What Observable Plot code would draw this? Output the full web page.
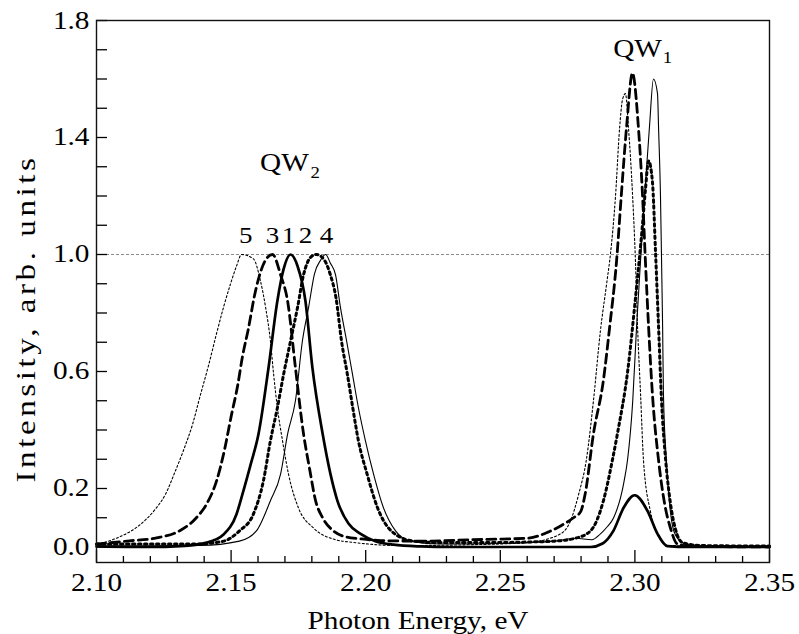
<!DOCTYPE html>
<html><head><meta charset="utf-8">
<script src="https://cdn.jsdelivr.net/npm/d3@7"></script>
<script src="https://cdn.jsdelivr.net/npm/@observablehq/plot@0.6"></script>
<style>
body{margin:0;background:#fff;}
#chart svg text{font-family:"Liberation Serif","Times New Roman",Times,serif !important;}
</style>
</head><body><div id="chart"></div>
<script>
// Spectrum 1: thick solid line [photon energy eV, intensity]
const curve1 = [[2.100,0.002],[2.120,0.0],[2.1312,0.003],[2.1409,0.015],[2.1472,0.043],[2.1520,0.112],[2.1542,0.18],[2.1572,0.28],[2.1602,0.387],[2.1639,0.613],[2.1672,0.842],[2.1695,0.95],[2.1721,1.0],[2.1747,0.96],[2.1776,0.842],[2.1802,0.613],[2.1840,0.387],[2.1869,0.25],[2.1895,0.158],[2.1936,0.08],[2.1981,0.045],[2.2036,0.02],[2.2103,0.008],[2.2204,0.002],[2.2315,0.0],[2.2835,0.0],[2.2880,0.012],[2.2920,0.055],[2.2958,0.134],[2.2999,0.177],[2.3047,0.123],[2.3084,0.045],[2.3121,0.003],[2.3200,0.0],[2.3500,0.0]];
// Spectrum 2: thick dotted line
const curve2 = [[2.100,0.01],[2.1371,0.01],[2.1472,0.02],[2.1531,0.055],[2.1583,0.113],[2.1620,0.226],[2.1646,0.363],[2.1672,0.476],[2.1695,0.59],[2.1721,0.705],[2.1747,0.82],[2.1769,0.93],[2.1795,0.99],[2.1817,1.0],[2.1847,0.98],[2.1869,0.93],[2.1890,0.85],[2.1910,0.705],[2.1932,0.59],[2.1952,0.476],[2.1973,0.363],[2.2005,0.25],[2.2044,0.134],[2.2095,0.055],[2.2178,0.02],[2.2278,0.015],[2.2450,0.015],[2.2600,0.017],[2.2700,0.02],[2.2779,0.03],[2.2835,0.055],[2.2883,0.158],[2.2917,0.3],[2.2935,0.387],[2.2973,0.6],[2.3002,0.85],[2.3028,1.1],[2.3039,1.22],[2.3051,1.32],[2.3065,1.25],[2.3077,1.0],[2.3088,0.75],[2.3099,0.5],[2.3114,0.3],[2.3132,0.15],[2.3151,0.06],[2.3177,0.015],[2.3244,0.005],[2.3500,0.003]];
// Spectrum 3: thick dashed line
const curve3 = [[2.100,0.01],[2.1123,0.021],[2.1223,0.031],[2.1308,0.055],[2.1371,0.1],[2.1409,0.147],[2.1446,0.226],[2.1475,0.33],[2.1501,0.45],[2.1524,0.55],[2.1542,0.65],[2.1565,0.75],[2.1587,0.86],[2.1613,0.95],[2.1635,0.99],[2.1654,1.0],[2.1684,0.93],[2.1710,0.84],[2.1739,0.613],[2.1769,0.387],[2.1791,0.27],[2.1814,0.158],[2.1840,0.1],[2.1880,0.055],[2.1925,0.035],[2.1981,0.028],[2.2055,0.022],[2.2204,0.02],[2.2400,0.025],[2.2601,0.03],[2.2675,0.05],[2.2724,0.072],[2.2772,0.1],[2.2798,0.12],[2.2815,0.18],[2.2846,0.387],[2.2883,0.57],[2.2906,0.75],[2.2932,0.979],[2.2950,1.209],[2.2969,1.435],[2.2991,1.62],[2.3013,1.435],[2.3028,1.209],[2.3039,0.979],[2.3051,0.75],[2.3065,0.524],[2.3088,0.295],[2.3110,0.15],[2.3132,0.065],[2.3158,0.01],[2.3207,0.003],[2.3500,0.0]];
// Spectrum 4: thin solid line
const curve4 = [[2.100,0.003],[2.1386,0.005],[2.1531,0.02],[2.1594,0.055],[2.1646,0.158],[2.1684,0.25],[2.1710,0.387],[2.1739,0.5],[2.1765,0.705],[2.1788,0.82],[2.1810,0.935],[2.1832,0.98],[2.1851,1.0],[2.1869,0.97],[2.1888,0.93],[2.1906,0.82],[2.1929,0.705],[2.1951,0.59],[2.1973,0.476],[2.1999,0.363],[2.2029,0.25],[2.2066,0.134],[2.2111,0.055],[2.2166,0.02],[2.2278,0.01],[2.2500,0.012],[2.2700,0.02],[2.2780,0.03],[2.2840,0.025],[2.2872,0.045],[2.2898,0.07],[2.2921,0.1],[2.2958,0.216],[2.2973,0.3],[2.2992,0.5],[2.3006,0.75],[2.3021,0.98],[2.3036,1.2],[2.3054,1.435],[2.3069,1.6],[2.3084,1.55],[2.3088,1.43],[2.3095,1.2],[2.3099,0.98],[2.3103,0.75],[2.3106,0.524],[2.3117,0.295],[2.3132,0.12],[2.3151,0.04],[2.3188,0.01],[2.3244,0.005],[2.3500,0.003]];
// Spectrum 5: thin dotted line
const curve5 = [[2.100,0.008],[2.1074,0.03],[2.1160,0.075],[2.1219,0.13],[2.1256,0.18],[2.1293,0.26],[2.1323,0.33],[2.1357,0.42],[2.1386,0.52],[2.1416,0.62],[2.1446,0.73],[2.1472,0.82],[2.1498,0.9],[2.1520,0.96],[2.1539,1.0],[2.1583,0.985],[2.1609,0.91],[2.1628,0.82],[2.1646,0.705],[2.1658,0.59],[2.1672,0.476],[2.1691,0.363],[2.1713,0.25],[2.1750,0.134],[2.1806,0.065],[2.1880,0.027],[2.1970,0.014],[2.2129,0.005],[2.2400,0.008],[2.2600,0.015],[2.2724,0.045],[2.2761,0.09],[2.2791,0.18],[2.2820,0.3],[2.2846,0.5],[2.2872,0.74],[2.2895,0.9],[2.2909,1.0],[2.2928,1.2],[2.2943,1.43],[2.2954,1.53],[2.2965,1.55],[2.2976,1.435],[2.2991,1.209],[2.3002,0.979],[2.3010,0.75],[2.3021,0.524],[2.3032,0.295],[2.3058,0.12],[2.3084,0.045],[2.3121,0.005],[2.3500,0.002]];

// Curve number labels above the QW2 peaks
const peakLabels = ["5", "3", "1", "2", "4"];
const peakLabelX = [2.1554, 2.1654, 2.1713, 2.1776, 2.1854];
const peakLabelY = [1.041, 1.041, 1.041, 1.041, 1.041];
// Quantum well labels
const qwLabels = ["QW", "QW"];
const qwX = [2.1698, 2.3010];
const qwY = [1.284, 1.675];
const qwSubs = ["2", "1"];
const qwSubX = [2.1795, 2.3103];
const qwSubY = [1.260, 1.654];

// Axes
const xTickLabels = [2.10, 2.15, 2.20, 2.25, 2.30, 2.35];
const xMinorTicks = [2.11,2.12,2.13,2.14,2.16,2.17,2.18,2.19,2.21,2.22,2.23,2.24,2.26,2.27,2.28,2.29,2.31,2.32,2.33,2.34];
const yTickLabels = [0.0, 0.2, 0.6, 1.0, 1.4, 1.8];
const yTicks = [0.0,0.1,0.2,0.3,0.4,0.5,0.6,0.7,0.8,0.9,1.0,1.1,1.2,1.3,1.4,1.5,1.6,1.7,1.8];
const refLevel = [1.0];
const xLabel = "Photon Energy, eV";
const yLabel = "Intensity, arb. units";

const W = 799, H = 634, mL = 96, mR = 30, mT = 20, mB = 72;
const innerH = H - mT - mB, innerW = W - mL - mR;
const font = "'Liberation Serif', 'Times New Roman', Times, serif";
const toPts = c => c.map(([x, y]) => ({x, y}));

const plot = Plot.plot({
  width: W, height: H,
  marginLeft: mL, marginRight: mR, marginTop: mT, marginBottom: mB,
  style: {fontFamily: font, fontSize: "25px", color: "#000", background: "#fff"},
  x: {domain: [2.10, 2.35]},
  y: {domain: [-0.053, 1.8]},
  marks: [
    Plot.ruleY(refLevel, {stroke: "#8a8a8a", strokeWidth: 1, strokeDasharray: "3,2"}),
    Plot.line(toPts(curve5), {x: "x", y: "y", stroke: "#000", strokeWidth: 1.1, strokeDasharray: "2,2.2", curve: "monotone-x"}),
    Plot.line(toPts(curve4), {x: "x", y: "y", stroke: "#000", strokeWidth: 1.1, curve: "monotone-x"}),
    Plot.line(toPts(curve2), {x: "x", y: "y", stroke: "#000", strokeWidth: 3, strokeDasharray: "2.5,3.5", curve: "monotone-x"}),
    Plot.line(toPts(curve3), {x: "x", y: "y", stroke: "#000", strokeWidth: 2.8, strokeDasharray: "9,5", curve: "monotone-x"}),
    Plot.line(toPts(curve1), {x: "x", y: "y", stroke: "#000", strokeWidth: 2.7, curve: "monotone-x"}),
    Plot.ruleX(xTickLabels, {stroke: "#000", strokeWidth: 1.3, insetTop: innerH - 12}),
    Plot.ruleX(xMinorTicks, {stroke: "#000", strokeWidth: 1.3, insetTop: innerH - 6}),
    Plot.ruleY(yTicks, {stroke: "#000", strokeWidth: 1.3, insetRight: innerW - 11}),
    Plot.axisX({ticks: xTickLabels, tickSize: 0, tickPadding: 11, tickFormat: d => d.toFixed(2), label: null, fontFamily: font}),
    Plot.axisY({ticks: yTickLabels, tickSize: 0, tickPadding: 7, tickFormat: d => d.toFixed(1), label: null, fontFamily: font}),
    Plot.frame({stroke: "#111", strokeWidth: 1.4}),
    Plot.text(peakLabels.map((t, i) => ({t, x: peakLabelX[i], y: peakLabelY[i]})), {x: "x", y: "y", text: "t", fontSize: 23, fontFamily: font, lineAnchor: "bottom", fill: "#000"}),
    Plot.text(qwLabels.map((t, i) => ({t, x: qwX[i], y: qwY[i]})), {x: "x", y: "y", text: "t", fontSize: 25, fontFamily: font, lineAnchor: "bottom", fill: "#000"}),
    Plot.text(qwSubs.map((t, i) => ({t, x: qwSubX[i], y: qwSubY[i]})), {x: "x", y: "y", text: "t", fontSize: 16, fontFamily: font, textAnchor: "start", lineAnchor: "bottom", fill: "#000"}),
    Plot.text([xLabel], {frameAnchor: "bottom", dx: -125.5, dy: 66, textAnchor: "start", lineAnchor: "bottom", fontSize: 26, fontFamily: font, fill: "#000"}),
    Plot.text([yLabel], {frameAnchor: "left", dx: -62, dy: 191, rotate: -90, textAnchor: "start", lineAnchor: "bottom", fontSize: 28, fontFamily: font, fill: "#000"})
  ]
});

document.getElementById("chart").appendChild(plot);

// the reference typesetting is horizontally widened; stretch glyphs to match
d3.select(plot).selectAll("text").each(function() {
  const t = this.textContent;
  if (t === yLabel) {
    this.style.letterSpacing = "3px";
    this.setAttribute("textLength", 328);
    this.setAttribute("lengthAdjust", "spacingAndGlyphs");
  } else if (t === xLabel) {
    this.setAttribute("textLength", 221);
    this.setAttribute("lengthAdjust", "spacingAndGlyphs");
  } else if (t) {
    const L = this.getComputedTextLength();
    if (L > 0) {
      this.setAttribute("textLength", (L * 1.17).toFixed(1));
      this.setAttribute("lengthAdjust", "spacingAndGlyphs");
    }
  }
});
</script>
</body></html>
